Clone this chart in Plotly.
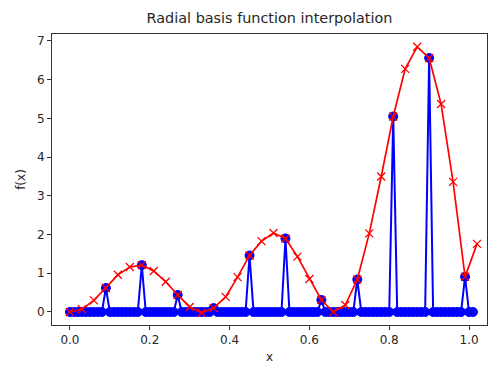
import numpy as np
import plotly.graph_objects as go

# sample data points (x, f(x))
data_x = [0.00, 0.09, 0.18, 0.27, 0.36, 0.45, 0.54, 0.63, 0.72, 0.81, 0.90, 0.99]
data_y = [0.00, 0.62, 1.21, 0.44, 0.10, 1.46, 1.90, 0.31, 0.84, 5.05, 6.56, 0.91]

# interpolated curve
interp_x = [0.00, 0.03, 0.06, 0.09, 0.12, 0.15, 0.18, 0.21, 0.24, 0.27, 0.30, 0.33,
            0.36, 0.39, 0.42, 0.45, 0.48, 0.51, 0.54, 0.57, 0.60, 0.63, 0.66, 0.69,
            0.72, 0.75, 0.78, 0.81, 0.84, 0.87, 0.90, 0.93, 0.96, 0.99, 1.02]
interp_y = [0.00, 0.07, 0.30, 0.62, 0.96, 1.16, 1.21, 1.06, 0.78, 0.44, 0.13, -0.02,
            0.10, 0.39, 0.90, 1.46, 1.83, 2.04, 1.90, 1.43, 0.85, 0.31, 0.00, 0.18,
            0.84, 2.03, 3.50, 5.05, 6.28, 6.85, 6.56, 5.37, 3.36, 0.91, 1.76]

# dense sampling grid (0 .. 1.01, step 0.01)
grid_x = np.round(np.arange(0, 102) * 0.01, 2)
grid_y = np.zeros_like(grid_x)
for xv, yv in zip(data_x, data_y):
    grid_y[int(round(xv * 100))] = yv

fig = go.Figure()
fig.add_trace(go.Scatter(
    x=grid_x, y=grid_y, mode="lines+markers",
    line=dict(color="#0000ff", width=2),
    marker=dict(symbol="circle", size=9, color="#0000ff",
                line=dict(color="#0000ff", width=1)),
    showlegend=False))
fig.add_trace(go.Scatter(
    x=interp_x, y=interp_y, mode="lines+markers",
    line=dict(color="#ff0000", width=1.7),
    marker=dict(symbol="x-thin", size=8, color="#ff0000",
                line=dict(color="#ff0000", width=1.3)),
    showlegend=False))

axis_common = dict(showline=True, linecolor="#333333", linewidth=1, mirror=True,
                   ticks="outside", ticklen=4, tickcolor="#333333",
                   showgrid=False, zeroline=False,
                   tickfont=dict(family="DejaVu Sans", size=12, color="#262626"))

fig.update_layout(
    width=488, height=365,
    margin=dict(l=52, r=1, t=34, b=40),
    plot_bgcolor="white", paper_bgcolor="white",
    title=dict(text="Radial basis function interpolation", x=0.5, xanchor="center",
               xref="paper", y=1 - 18 / 365, yanchor="middle",
               font=dict(family="DejaVu Sans", size=14.4, color="#262626")),
    xaxis=dict(range=[-0.045, 1.045], tickvals=[0, 0.2, 0.4, 0.6, 0.8, 1.0],
               tickformat=".1f",
               title=dict(text="x", font=dict(family="DejaVu Sans", size=12, color="#262626"),
                          standoff=6),
               **axis_common),
    yaxis=dict(range=[-0.336, 7.18], tickvals=[0, 1, 2, 3, 4, 5, 6, 7],
               title=dict(text="f(x)", font=dict(family="DejaVu Sans", size=12, color="#262626"),
                          standoff=8),
               **axis_common),
)

fig.write_html("out.html")
